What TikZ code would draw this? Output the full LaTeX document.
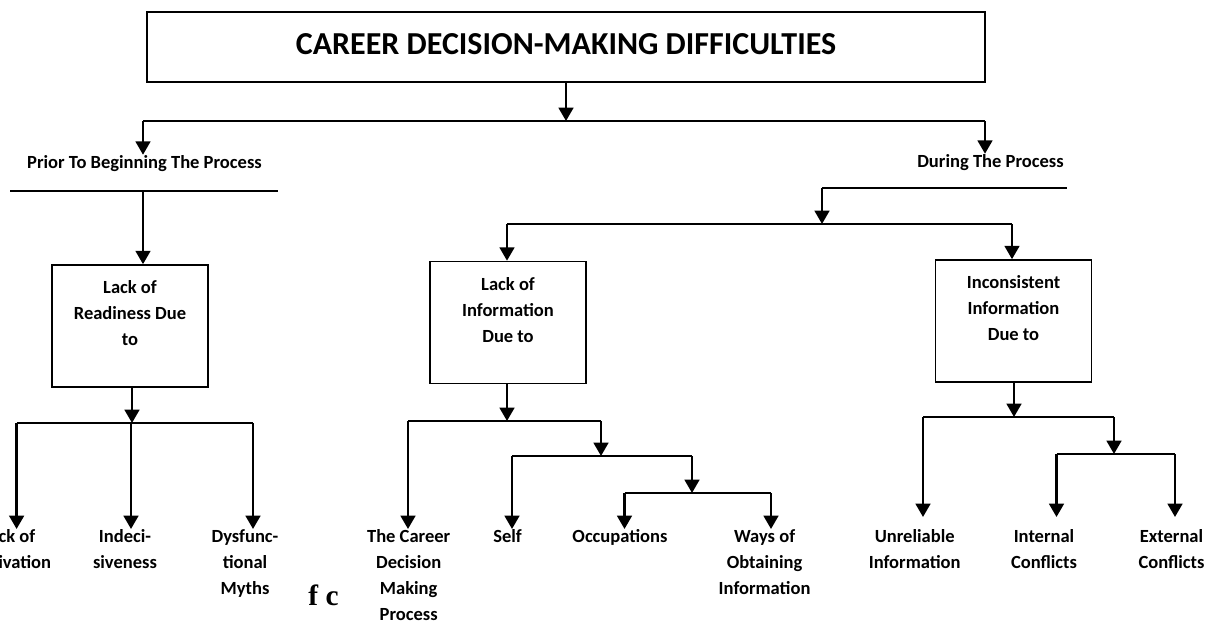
\documentclass[tikz,border=0pt]{standalone}
\usepackage{fontspec}
\setmainfont{Carlito}
\newfontfamily\strayfont{Liberation Serif}
\usepackage{tikz}
\usetikzlibrary{arrows.meta}
\newcommand{\labfont}{\fontsize{13.9pt}{19.5pt}\selectfont\bfseries}

\begin{document}
\begin{tikzpicture}[
  x=0.75pt, y=-0.75pt,
  titlebox/.style={draw, line width=1.2pt, inner sep=0pt,
                   minimum width=628.5pt, minimum height=52.5pt,
                   font=\fontsize{24pt}{29pt}\selectfont\bfseries},
  box/.style={draw, line width=1.2pt, inner sep=0pt, align=center,
              minimum width=117pt, minimum height=91.5pt, font=\labfont},
  lab/.style={anchor=base, align=center, inner sep=0pt, font=\labfont},
  leaf/.style={anchor=north, align=center, inner sep=0pt, font=\labfont},
  arr/.style={-{Triangle[width=11pt,length=10pt]}, line width=1.9pt},
  bar/.style={line width=1.2pt}
]
  \useasboundingbox (0,0) rectangle (1218,622);

  % top level
  \node[titlebox] (title) at (566,47) {\raisebox{4pt}{CAREER DECISION-MAKING DIFFICULTIES}};
  \node[lab] (prior)  at (144.5,168) {Prior To Beginning The Process};
  \node[lab] (during) at (990.5,167) {During The Process};

  \coordinate (j0)      at (566,121);
  \coordinate (jPrior)  at (143,121);
  \coordinate (jDuring) at (985,121);
  \draw[arr] (title.south) -- (j0);
  \draw[bar] (jPrior) -- (jDuring);
  \draw[arr] (jPrior) -- (jPrior |- prior.north);
  \draw[arr] (jDuring) -- (jDuring |- during.north);

  % boxes
  \node[box] (ready)  at (130,326)    {Lack of\\Readiness Due\\to\\~};
  \node[box] (info)   at (508,322.5)  {Lack of\\Information\\Due to\\~};
  \node[box] (incons) at (1013.5,321) {Inconsistent\\Information\\Due to\\~};

  \coordinate (pl1) at (10,191);
  \coordinate (pl2) at (278,191);
  \coordinate (jReady) at (143,191);
  \draw[bar] (pl1) -- (pl2);
  \draw[arr] (jReady) -- (jReady |- ready.north);

  \coordinate (dl1) at (822,188);
  \coordinate (dl2) at (1067,188);
  \coordinate (jInfo)   at (507,224);
  \coordinate (jIncons) at (1012,224);
  \draw[bar] (dl1) -- (dl2);
  \draw[arr] (dl1) -- (dl1 |- jInfo);
  \draw[bar] (jInfo) -- (jIncons);
  \draw[arr] (jInfo) -- (jInfo |- info.north);
  \draw[arr] (jIncons) -- (jIncons |- incons.north);

  % leaves
  \node[leaf] (motiv)  at (8.5,529)   {Lack of\\Motivation};
  \node[leaf] (indec)  at (125,529)   {Indeci-\\siveness};
  \node[leaf] (dysf)   at (245,529)   {Dysfunc-\\tional\\Myths};
  \node[leaf] (proc)   at (408.7,529) {The Career\\Decision\\Making\\Process};
  \node[leaf] (self)   at (507.5,529) {Self};
  \node[leaf] (occup)  at (620,529)   {Occupations};
  \node[leaf] (ways)   at (764.6,529) {Ways of\\Obtaining\\Information};
  \node[leaf] (unrel)  at (914.7,529) {Unreliable\\Information};
  \node[leaf] (intern) at (1044,529)  {Internal\\Conflicts};
  \node[leaf] (extern) at (1171.5,529) {External\\Conflicts};
  \node[inner sep=0pt, anchor=base, font=\strayfont\fontsize{22pt}{26pt}\selectfont\bfseries]
    (stray) at (323.5,605) {f c};

  % readiness branch
  \coordinate (r0) at (132,423);
  \coordinate (r1) at (16.6,423);
  \coordinate (r2) at (131,423);
  \coordinate (r3) at (253,423);
  \draw[arr] (ready.south -| r0) -- (r0);
  \draw[bar] (r1) -- (r3);
  \draw[arr] (r1) -- (r1 |- motiv.north);
  \draw[arr] (r2) -- (r2 |- indec.north);
  \draw[arr] (r3) -- (r3 |- dysf.north);

  % information branch
  \coordinate (i0) at (507,421);
  \coordinate (i1) at (408,421);
  \coordinate (i2) at (601,421);
  \coordinate (i3) at (601,456);
  \coordinate (i4) at (512,456);
  \coordinate (i5) at (692,456);
  \coordinate (i6) at (692,493);
  \coordinate (i7) at (624.5,493);
  \coordinate (i8) at (771,493);
  \draw[arr] (info.south -| i0) -- (i0);
  \draw[bar] (i1) -- (i2);
  \draw[arr] (i1) -- (i1 |- proc.north);
  \draw[arr] (i2) -- (i3);
  \draw[bar] (i4) -- (i5);
  \draw[arr] (i4) -- (i4 |- self.north);
  \draw[arr] (i5) -- (i6);
  \draw[bar] (i7) -- (i8);
  \draw[arr] (i7) -- (i7 |- occup.north);
  \draw[arr] (i8) -- (i8 |- ways.north);

  % inconsistency branch
  \coordinate (c0) at (1014,417);
  \coordinate (c1) at (923,417);
  \coordinate (c2) at (1114,417);
  \coordinate (c3) at (1114,454);
  \coordinate (c4) at (1056.5,454);
  \coordinate (c5) at (1175,454);
  \coordinate (c1end) at (923,517);
  \coordinate (c4end) at (1056.5,517);
  \coordinate (c5end) at (1175,517);
  \draw[arr] (incons.south -| c0) -- (c0);
  \draw[bar] (c1) -- (c2);
  \draw[arr] (c1) -- (c1end);
  \draw[arr] (c2) -- (c3);
  \draw[bar] (c4) -- (c5);
  \draw[arr] (c4) -- (c4end);
  \draw[arr] (c5) -- (c5end);
\end{tikzpicture}
\end{document}
